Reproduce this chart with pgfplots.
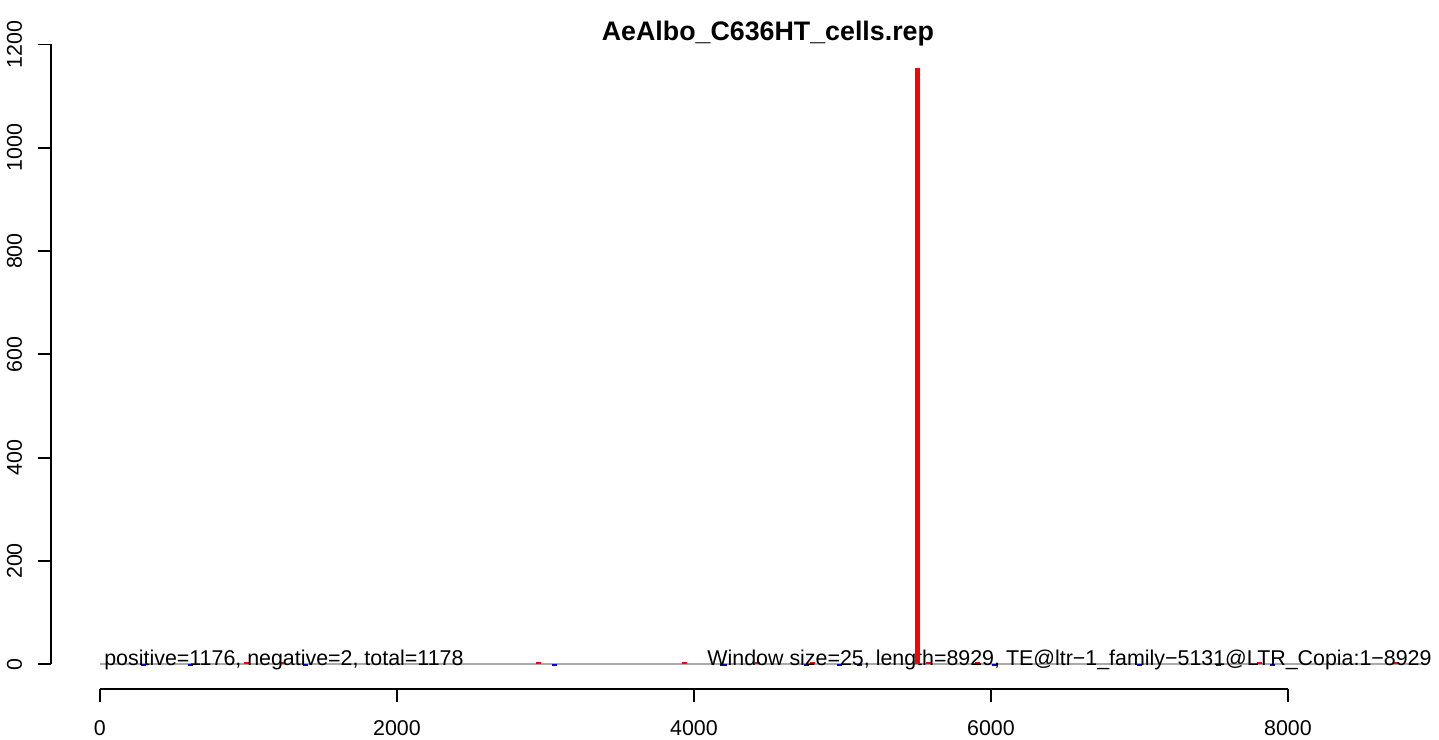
\documentclass[border=0pt]{standalone}
\usepackage{fontspec}
\setmainfont{Liberation Sans}
\usepackage{pgfplots}
\pgfplotsset{compat=1.18}

\definecolor{basegray}{RGB}{170,170,170}
\definecolor{rblue}{RGB}{0,0,230}

\begin{document}
\begin{tikzpicture}
  \begin{axis}[
      x=0.07425pt, y=0.2583pt,
      xmin=-337, xmax=8956,
      ymin=0, ymax=1200,
      axis lines=none,
      clip=false,
      font=\fontsize{10.7}{12}\selectfont
    ]
    % page extent
    \path (axis cs:-673,-146) rectangle (axis cs:9017,1286);

    % baseline of the window
    \draw[basegray, line width=1pt] (axis cs:0,0) -- (axis cs:8929,0);

    % tiny counts along the baseline
    \addplot[ycomb, red, line width=2.5pt, line cap=butt, mark=none] coordinates {
      (990,5) (1232,5) (2956,5) (3939,5) (4431,5)
      (4801,5) (5576,5) (5912,5) (7811,5) (8734,5)
    };
    \addplot[ycomb, rblue, line width=2.5pt, line cap=butt, mark=none] coordinates {
      (290,-3) (613,-3) (1387,-3) (3064,-3) (4189,-3) (4209,-3) (4761,-3)
      (4983,-3) (5118,-3) (6027,-3) (7003,-3) (7529,-3) (7899,-3)
    };

    % annotations
    \node[anchor=base west, inner sep=0pt] at (axis cs:27,-2)
      {positive=1176, negative=2, total=1178};
    \node[anchor=base east, inner sep=0pt] at (axis cs:8970,-2)
      {Window size=25, length=8929, TE@ltr−1\_family−5131@LTR\_Copia:1−8929};

    % main peak
    \addplot[ycomb, red, line width=2.5pt, line cap=butt, mark=none] coordinates {
      (5505,1155)
    };

    % title
    \node[anchor=base, font=\fontsize{13.4}{15}\selectfont\bfseries] at (axis cs:4498,1208)
      {AeAlbo\_C636HT\_cells.rep};

    % y axis (R style, detached)
    \draw[line width=0.9pt] (axis cs:-330,0) -- (axis cs:-330,1200);
    \pgfplotsinvokeforeach{0,200,400,600,800,1000,1200}{
      \draw[line width=0.9pt] (axis cs:-330,#1) -- (axis cs:-418,#1);
      \node[rotate=90, inner sep=0pt] at (axis cs:-576,#1) {#1};
    }

    % x axis (R style, detached)
    \draw[line width=0.9pt] (axis cs:0,-47.4) -- (axis cs:8000,-47.4);
    \pgfplotsinvokeforeach{0,2000,4000,6000,8000}{
      \draw[line width=0.9pt] (axis cs:#1,-47.4) -- (axis cs:#1,-72.6);
      \node[inner sep=0pt] at (axis cs:#1,-123) {#1};
    }
  \end{axis}
\end{tikzpicture}
\end{document}
